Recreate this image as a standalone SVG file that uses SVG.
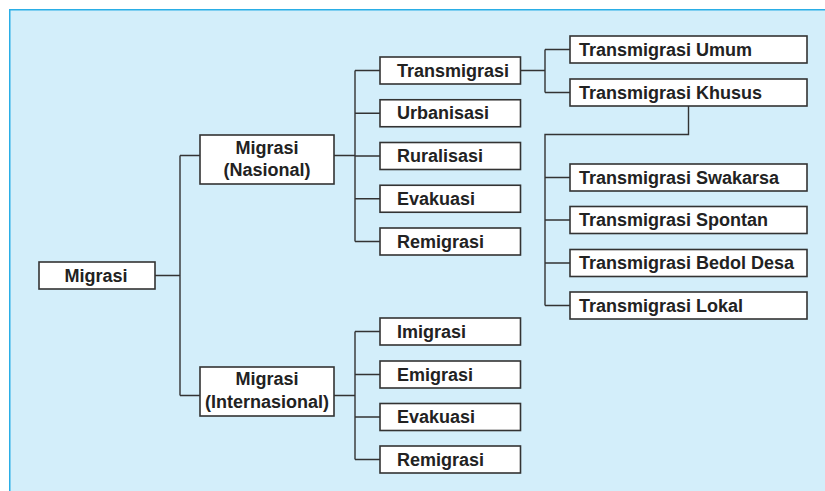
<svg xmlns="http://www.w3.org/2000/svg" width="825" height="491" viewBox="0 0 825 491">
<style>
.box{fill:#fff;stroke:#333;stroke-width:1.6}
.t{font-family:"Liberation Sans",Arial,sans-serif;font-weight:bold;font-size:18px;fill:#222}
.c{text-anchor:middle}
.ln{fill:none;stroke:#333;stroke-width:1.4}
</style>
<rect x="9" y="9" width="820" height="490" fill="#D3EEFA"/>
<path d="M9.75 491 V9.75 H825" fill="none" stroke="#2AAEE6" stroke-width="1.5"/>
<g id="connectors" class="ln">
<path d="M155 275.5 H180 M180 155.5 V395.5 M180 155.5 H200 M180 395.5 H200"/>
<path d="M334 155.5 H355 M355 70.5 V241.5 M355 70.5 H380 M355 113.25 H380 M355 156 H380 M355 198.75 H380 M355 241.5 H380"/>
<path d="M334 395.5 H355 M355 331.5 V459.5 M355 331.5 H380 M355 374.5 H380 M355 417 H380 M355 459.5 H380"/>
<path d="M520.5 70.5 H545 M545 49.5 V92.5 M545 49.5 H570 M545 92.5 H570"/>
<path d="M688.5 106 V134.5 H545 V305.5 M545 177.5 H570 M545 220 H570 M545 263 H570 M545 305.5 H570"/>
</g>
<g id="n-migrasi"><rect class="box" x="39" y="262" width="116" height="27"/><text class="t c" x="96" y="282">Migrasi</text></g>
<g id="n-nasional"><rect class="box" x="200" y="135" width="134" height="49"/><text class="t c" x="267" y="153.5">Migrasi</text><text class="t c" x="267" y="175.5">(Nasional)</text></g>
<g id="n-internasional"><rect class="box" x="200" y="367" width="134" height="49"/><text class="t c" x="267" y="385">Migrasi</text><text class="t c" x="267" y="407.5">(Internasional)</text></g>
<g id="n-transmigrasi"><rect class="box" x="380" y="57" width="140.5" height="27"/><text class="t" x="397" y="76.5">Transmigrasi</text></g>
<g id="n-urbanisasi"><rect class="box" x="380" y="99.75" width="140.5" height="27"/><text class="t" x="397" y="119.25">Urbanisasi</text></g>
<g id="n-ruralisasi"><rect class="box" x="380" y="142.5" width="140.5" height="27"/><text class="t" x="397" y="162">Ruralisasi</text></g>
<g id="n-evakuasi1"><rect class="box" x="380" y="185.25" width="140.5" height="27"/><text class="t" x="397" y="204.75">Evakuasi</text></g>
<g id="n-remigrasi1"><rect class="box" x="380" y="228" width="140.5" height="27"/><text class="t" x="397" y="247.5">Remigrasi</text></g>
<g id="n-imigrasi"><rect class="box" x="380" y="318" width="140.5" height="27"/><text class="t" x="397" y="337.5">Imigrasi</text></g>
<g id="n-emigrasi"><rect class="box" x="380" y="361" width="140.5" height="27"/><text class="t" x="397" y="380.5">Emigrasi</text></g>
<g id="n-evakuasi2"><rect class="box" x="380" y="403.5" width="140.5" height="27"/><text class="t" x="397" y="423">Evakuasi</text></g>
<g id="n-remigrasi2"><rect class="box" x="380" y="446" width="140.5" height="27"/><text class="t" x="397" y="465.5">Remigrasi</text></g>
<g id="n-umum"><rect class="box" x="570" y="36" width="237" height="27"/><text class="t" x="579" y="55.5">Transmigrasi Umum</text></g>
<g id="n-khusus"><rect class="box" x="570" y="79" width="237" height="27"/><text class="t" x="579" y="98.5">Transmigrasi Khusus</text></g>
<g id="n-swakarsa"><rect class="box" x="570" y="164" width="237" height="27"/><text class="t" x="579" y="183.5">Transmigrasi Swakarsa</text></g>
<g id="n-spontan"><rect class="box" x="570" y="206.5" width="237" height="27"/><text class="t" x="579" y="226">Transmigrasi Spontan</text></g>
<g id="n-bedol"><rect class="box" x="570" y="249.5" width="237" height="27"/><text class="t" x="579" y="269">Transmigrasi Bedol Desa</text></g>
<g id="n-lokal"><rect class="box" x="570" y="292" width="237" height="27"/><text class="t" x="579" y="311.5">Transmigrasi Lokal</text></g>
</svg>
